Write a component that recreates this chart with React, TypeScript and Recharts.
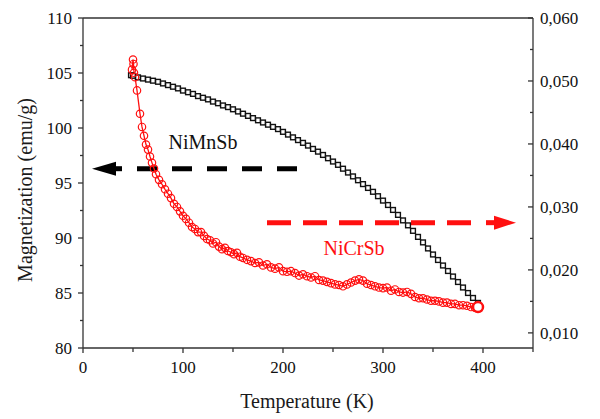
import React from 'react';
import { ComposedChart, Line, XAxis, YAxis, ReferenceLine, ReferenceDot } from 'recharts';

// NiMnSb, left axis (emu/g)
const mnTemps = [48, 50, 55, 60, 65, 70, 75, 80, 85, 90, 95, 100, 105, 110, 115, 120, 125, 130, 135, 140, 145, 150, 155, 160, 165, 170, 175, 180, 185, 190, 195, 200, 205, 210, 215, 220, 225, 230, 235, 240, 245, 250, 255, 260, 265, 270, 275, 280, 285, 290, 295, 300, 305, 310, 315, 320, 325, 330, 335, 340, 345, 350, 355, 360, 365, 370, 375, 380, 385, 390, 395];
const mnValues = [104.8, 104.75, 104.6, 104.5, 104.4, 104.3, 104.2, 104.05, 103.9, 103.75, 103.6, 103.4, 103.25, 103.1, 102.9, 102.75, 102.6, 102.4, 102.25, 102.05, 101.9, 101.7, 101.5, 101.3, 101.1, 100.9, 100.7, 100.5, 100.3, 100.1, 99.9, 99.65, 99.4, 99.15, 98.9, 98.65, 98.4, 98.1, 97.85, 97.55, 97.25, 96.95, 96.65, 96.3, 95.95, 95.6, 95.25, 94.9, 94.55, 94.2, 93.8, 93.4, 93.0, 92.55, 92.1, 91.6, 91.15, 90.65, 90.1, 89.6, 89.05, 88.5, 88.0, 87.5, 87.0, 86.5, 86.0, 85.5, 85.0, 84.55, 84.1];

// NiCrSb, right axis
const crTemps = [49, 50, 50.5, 51, 52, 54, 57, 59, 61, 63, 65, 67, 69, 71, 73, 76, 79, 82, 85, 88, 91, 94, 97, 100, 103, 106, 109, 112, 115, 118, 121, 124, 127, 130, 133, 136, 139, 142, 145, 148, 151, 154, 157, 160, 164, 168, 172, 176, 180, 184, 188, 192, 196, 200, 204, 208, 212, 216, 220, 224, 228, 232, 236, 240, 244, 248, 252, 256, 260, 264, 268, 272, 276, 280, 284, 288, 292, 296, 300, 304, 308, 312, 316, 320, 324, 328, 332, 336, 340, 344, 348, 352, 356, 360, 364, 368, 372, 376, 380, 384, 388, 392, 395];
const crValues = [0.0518, 0.0534, 0.0527, 0.0513, 0.0506, 0.0485, 0.0448, 0.0427, 0.0413, 0.0399, 0.0391, 0.0380, 0.0370, 0.0361, 0.0352, 0.0343, 0.0336, 0.0328, 0.0321, 0.0314, 0.0305, 0.0300, 0.0293, 0.0286, 0.0281, 0.0275, 0.0268, 0.0265, 0.0260, 0.0260, 0.0254, 0.0249, 0.0247, 0.0242, 0.0244, 0.0237, 0.0233, 0.0235, 0.0230, 0.0228, 0.0225, 0.0227, 0.0221, 0.0219, 0.0216, 0.0214, 0.0211, 0.0212, 0.0207, 0.0209, 0.0204, 0.0202, 0.0204, 0.0198, 0.0197, 0.0198, 0.0195, 0.0191, 0.0193, 0.0190, 0.0188, 0.0190, 0.0184, 0.0183, 0.0181, 0.0179, 0.0177, 0.0176, 0.0174, 0.0177, 0.0180, 0.0183, 0.0185, 0.0183, 0.0178, 0.0176, 0.0174, 0.0172, 0.0171, 0.0172, 0.0167, 0.0169, 0.0165, 0.0164, 0.0165, 0.0162, 0.0157, 0.0155, 0.0155, 0.0153, 0.0151, 0.0151, 0.0150, 0.0148, 0.0148, 0.0146, 0.0146, 0.0144, 0.0144, 0.0143, 0.0141, 0.0140, 0.0141];

const xTicks = [0, 50, 100, 150, 200, 250, 300, 350, 400, 450];
const leftTicks = [80, 82.5, 85, 87.5, 90, 92.5, 95, 97.5, 100, 102.5, 105, 107.5, 110];
const rightTicks = [0.010, 0.015, 0.020, 0.025, 0.030, 0.035, 0.040, 0.045, 0.050, 0.055, 0.060];

// annotation arrows: dashed from..to, head tip, level
const mnArrow = { from: 54, to: 214, tip: 9, level: 96.3 };
const crArrow = { from: 184, to: 392, tip: 433, level: 0.0275 };

const mnData = mnTemps.map((t, i) => ({ t, v: mnValues[i] }));
const crData = crTemps.map((t, i) => ({ t, v: crValues[i] }));

const FONT = 'Liberation Serif, Times New Roman, DejaVu Serif, serif';
const AXIS = '#333';
const RED = '#ff1010';
const txt = { fontFamily: FONT };

const XTick = (props: any) => {
  const { x, y, payload } = props;
  const v = payload.value;
  const major = v % 100 === 0 && v < 450;
  return (
    <g>
      <line x1={x} x2={x} y1={y} y2={y + (major ? 5 : 4)} stroke={AXIS} strokeWidth={1.3} />
      {major && (
        <text x={x} y={y + 25} textAnchor="middle" fontSize={17} style={txt} fill="#111">{v}</text>
      )}
    </g>
  );
};

const LeftTick = (props: any) => {
  const { x, y, payload } = props;
  const v = payload.value;
  const major = v % 5 === 0;
  return (
    <g>
      <line x1={x} x2={x - (major ? 5 : 3)} y1={y} y2={y} stroke={AXIS} strokeWidth={1.3} />
      {major && (
        <text x={x - 11} y={y + 6} textAnchor="end" fontSize={17} style={txt} fill="#111">{v}</text>
      )}
    </g>
  );
};

const RightTick = (props: any) => {
  const { x, y, payload } = props;
  const v = payload.value;
  const major = Math.round(v * 1000) % 10 === 0;
  return (
    <g>
      <line x1={x} x2={x - (major ? 5 : 3)} y1={y} y2={y} stroke={AXIS} strokeWidth={1.3} />
      {major && (
        <text x={x + 7} y={y + 6} textAnchor="start" fontSize={17} style={txt} fill="#111">
          {v.toFixed(3).replace('.', ',')}
        </text>
      )}
    </g>
  );
};

const squareDot = (p: any) => (
  <rect key={'m' + p.index} x={p.cx - 2.4} y={p.cy - 2.4} width={4.8} height={4.8} fill="#fff" stroke="#111" strokeWidth={1.4} />
);

const circleDot = (p: any) => {
  const last = p.index === crData.length - 1;
  return (
    <circle key={'c' + p.index} cx={p.cx} cy={p.cy} r={last ? 5 : 3.7} fill={last ? '#fff' : 'none'} stroke={RED} strokeWidth={last ? 2.5 : 1.2} />
  );
};

export default function App() {
  return (
    <div style={{ position: 'absolute', left: 0, top: 0, width: 600, height: 419, background: '#fff', fontFamily: FONT }}>
      <ComposedChart width={600} height={419} margin={{ top: 18, right: 0, bottom: 0, left: 0 }}>
        <XAxis
          type="number"
          dataKey="t"
          domain={[0, 450]}
          ticks={xTicks}
          allowDataOverflow
          height={71}
          tickSize={0}
          tickMargin={0}
          tickLine={false}
          tick={<XTick />}
          stroke={AXIS}
          strokeWidth={1.3}
          label={() => (
            <text x={307} y={408} textAnchor="middle" fontSize={20} style={txt} fill="#1a1a1a">Temperature (K)</text>
          )}
        />
        <YAxis
          yAxisId="left"
          type="number"
          domain={[80, 110]}
          ticks={leftTicks}
          allowDataOverflow
          width={83}
          tickSize={0}
          tickMargin={0}
          tickLine={false}
          tick={<LeftTick />}
          stroke={AXIS}
          strokeWidth={1.3}
          label={() => (
            <text transform="translate(32,190) rotate(-90)" textAnchor="middle" fontSize={20} style={txt} fill="#1a1a1a">Magnetization (emu/g)</text>
          )}
        />
        <YAxis
          yAxisId="right"
          orientation="right"
          type="number"
          domain={[0.0076, 0.06]}
          ticks={rightTicks}
          allowDataOverflow
          width={67}
          tickSize={0}
          tickMargin={0}
          tickLine={false}
          tick={<RightTick />}
          stroke={AXIS}
          strokeWidth={1.3}
        />
        <ReferenceLine yAxisId="left" y={110} stroke={AXIS} strokeWidth={1.3} />

        <ReferenceLine
          yAxisId="left"
          segment={[{ x: mnArrow.from, y: mnArrow.level }, { x: mnArrow.to, y: mnArrow.level }]}
          stroke="#000"
          strokeWidth={5}
          strokeDasharray="20 15"
        />
        <ReferenceDot
          yAxisId="left"
          x={mnArrow.tip}
          y={mnArrow.level}
          shape={(p: any) => (
            <g>
              <polygon points={`${p.cx},${p.cy} ${p.cx + 24},${p.cy - 7} ${p.cx + 24},${p.cy + 7}`} fill="#000" />
              <rect x={p.cx + 20} y={p.cy - 2.5} width={10} height={5} fill="#000" />
            </g>
          )}
        />
        <ReferenceLine
          yAxisId="right"
          segment={[{ x: crArrow.from, y: crArrow.level }, { x: crArrow.to, y: crArrow.level }]}
          stroke={RED}
          strokeWidth={5}
          strokeDasharray="24 12"
        />
        <ReferenceDot
          yAxisId="right"
          x={crArrow.tip}
          y={crArrow.level}
          shape={(p: any) => (
            <g>
              <polygon points={`${p.cx},${p.cy} ${p.cx - 22},${p.cy - 7} ${p.cx - 22},${p.cy + 7}`} fill={RED} />
              <rect x={p.cx - 30} y={p.cy - 2.5} width={10} height={5} fill={RED} />
            </g>
          )}
        />

        <Line
          yAxisId="left"
          data={mnData}
          dataKey="v"
          name="NiMnSb"
          stroke="#111"
          strokeWidth={1.2}
          dot={squareDot}
          isAnimationActive={false}
        />
        <Line
          yAxisId="right"
          data={crData}
          dataKey="v"
          name="NiCrSb"
          stroke={RED}
          strokeWidth={1.3}
          dot={circleDot}
          isAnimationActive={false}
        />

        <ReferenceDot
          yAxisId="left"
          x={120}
          y={98.7}
          shape={(p: any) => (
            <text x={p.cx} y={p.cy + 7} textAnchor="middle" fontSize={20} style={txt} fill="#111">NiMnSb</text>
          )}
        />
        <ReferenceDot
          yAxisId="left"
          x={271}
          y={89.1}
          shape={(p: any) => (
            <text x={p.cx} y={p.cy + 7} textAnchor="middle" fontSize={20} style={txt} fill={RED}>NiCrSb</text>
          )}
        />
      </ComposedChart>
    </div>
  );
}
